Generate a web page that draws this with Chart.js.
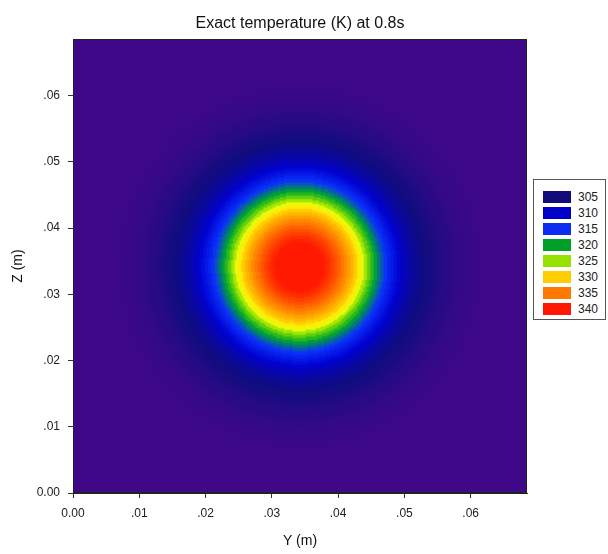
<!DOCTYPE html>
<html>
<head>
<meta charset="utf-8">
<script src="https://cdn.jsdelivr.net/npm/chart.js@4.4.0/dist/chart.umd.min.js"></script>
<style>
  html, body { margin: 0; padding: 0; background: #fff; }
  #wrap { position: relative; width: 608px; height: 554px; }
  #legend {
    position: absolute; left: 533px; top: 179px; width: 73px; height: 141px;
    box-sizing: border-box; border: 1px solid #555; background: #fff;
    font: 12px "Liberation Sans", Arial, sans-serif; color: #222;
  }
  .row { position: absolute; left: 9px; width: 60px; height: 12px; }
  .sw { position: absolute; left: 0; top: 0; width: 28px; height: 12px; }
  .lb { position: absolute; left: 35px; top: -1px; line-height: 14px; }
</style>
</head>
<body>
<div id="wrap">
  <canvas id="heatChart" width="608" height="554"></canvas>
  <div id="legend"></div>
</div>
<script>
// grid positions in mm (same for Y and Z), 0.25 mm apart
const gridStep = 0.25;
const gridMM = Array.from({ length: 275 }, (_, i) => i * gridStep);
// centre of the hot spot, mm
const centreY = 34.2;
const centreZ = 34.2;
// temperature (K) at r = 0, 0.5, 1.0 ... mm from the centre
const profileStep = 0.5;
const tempProfile = [
  342.0, 341.95, 341.8, 341.6, 341.3, 340.9, 340.5, 340.0, 339.5, 338.8,
  338.0, 337.1, 336.1, 335.1, 334.0, 332.9, 331.7, 330.4, 329.0, 327.3,
  325.3, 323.2, 321.3, 319.6, 318.0, 316.5, 315.1, 313.8, 312.6, 311.4,
  310.3, 309.3, 308.4, 307.6, 306.9, 306.3, 305.8, 305.3, 304.9, 304.5,
  304.1, 303.7, 303.3, 302.9, 302.6, 302.3, 302.0, 301.7, 301.4, 301.2,
  301.0, 300.8, 300.7, 300.6, 300.5, 300.4, 300.3, 300.25, 300.2, 300.15,
  300.1
];
// legend levels and colours
const legendLevels = [305, 310, 315, 320, 325, 330, 335, 340];
const legendColors = ['#120C7A', '#0000C8', '#0A2DF0', '#00A028', '#96E100', '#FFCD00', '#FF7800', '#FF1900'];
// shading colour stops
const shadeLevels = [300, 305, 310, 315, 320, 325, 328, 330, 335, 340];
const shadeColors = ['#3F0889', '#100C80', '#0000D0', '#0A30FA', '#00A828', '#96E400', '#FFFF10', '#FFD400', '#FF7800', '#FF1900'];
const axisMax = 0.0685;
const tickStep = 0.01;

// build the cell list
const cells = [];
gridMM.forEach((gz, j) => {
  gridMM.forEach((gy, i) => {
    const r = Math.round(Math.hypot(gy - centreY, gz - centreZ) / profileStep);
    const v = tempProfile[Math.min(r, tempProfile.length - 1)];
    cells.push({ x: gy / 1000, y: gz / 1000, v: v, i: i, j: j });
  });
});

function hexToRgb(h) {
  return [parseInt(h.slice(1, 3), 16), parseInt(h.slice(3, 5), 16), parseInt(h.slice(5, 7), 16)];
}
const shadeRgb = shadeColors.map(hexToRgb);

function colourFor(v) {
  if (v <= shadeLevels[0]) return shadeRgb[0];
  const last = shadeLevels.length - 1;
  if (v >= shadeLevels[last]) return shadeRgb[last];
  let k = 0;
  while (v > shadeLevels[k + 1]) k++;
  const t = (v - shadeLevels[k]) / (shadeLevels[k + 1] - shadeLevels[k]);
  const a = shadeRgb[k], b = shadeRgb[k + 1];
  return [0, 1, 2].map(c => Math.round(a[c] + (b[c] - a[c]) * t));
}

function tickText(v) {
  if (Math.abs(v) < 1e-9) return '0.00';
  return '.0' + Math.round(v * 100);
}

// paint the cells as an image placed through the scales
const heatPlugin = {
  id: 'heat',
  beforeDatasetsDraw(chart) {
    const pts = chart.data.datasets[0].data;
    const n = gridMM.length;
    const off = document.createElement('canvas');
    off.width = n;
    off.height = n;
    const octx = off.getContext('2d');
    const img = octx.createImageData(n, n);
    pts.forEach(p => {
      const rgb = colourFor(p.v);
      const idx = ((n - 1 - p.j) * n + p.i) * 4;
      img.data[idx] = rgb[0];
      img.data[idx + 1] = rgb[1];
      img.data[idx + 2] = rgb[2];
      img.data[idx + 3] = 255;
    });
    octx.putImageData(img, 0, 0);

    const xs = chart.scales.x, ys = chart.scales.y;
    const half = gridStep / 2000;
    const left = xs.getPixelForValue(gridMM[0] / 1000 - half);
    const right = xs.getPixelForValue(gridMM[n - 1] / 1000 + half);
    const top = ys.getPixelForValue(gridMM[n - 1] / 1000 + half);
    const bottom = ys.getPixelForValue(gridMM[0] / 1000 - half);
    const a = chart.chartArea;
    const ctx = chart.ctx;
    ctx.save();
    ctx.beginPath();
    ctx.rect(a.left, a.top, a.width, a.height);
    ctx.clip();
    ctx.imageSmoothingEnabled = true;
    ctx.imageSmoothingQuality = 'high';
    ctx.drawImage(off, left, top, right - left, bottom - top);
    ctx.restore();
  },
  afterDatasetsDraw(chart) {
    const a = chart.chartArea;
    const ctx = chart.ctx;
    ctx.save();
    ctx.strokeStyle = '#222';
    ctx.lineWidth = 1;
    ctx.strokeRect(Math.round(a.left) + 0.5, Math.round(a.top) + 0.5, Math.round(a.width) - 1, Math.round(a.height) - 1);
    ctx.restore();
  }
};

const fontFamily = '"Liberation Sans", Arial, sans-serif';

function axisOptions(titleText, isX) {
  return {
    type: 'linear',
    min: 0,
    max: axisMax,
    ticks: {
      stepSize: tickStep,
      includeBounds: false,
      color: '#222',
      font: { family: fontFamily, size: 12 },
      padding: 8,
      maxRotation: 0,
      callback: v => tickText(v)
    },
    grid: {
      drawOnChartArea: false,
      drawTicks: true,
      tickLength: 5,
      color: '#333'
    },
    border: { display: true, color: '#222' },
    title: {
      display: true,
      text: titleText,
      color: '#111',
      font: { family: fontFamily, size: 14 },
      padding: isX ? { top: 9, bottom: 4 } : { top: 10, bottom: 4 }
    },
    afterFit: isX ? (s => { s.height = 61; }) : (s => { s.width = 73; })
  };
}

new Chart(document.getElementById('heatChart'), {
  type: 'scatter',
  data: {
    datasets: [{
      label: 'Temperature (K)',
      data: cells,
      pointRadius: 0,
      pointHoverRadius: 0
    }]
  },
  options: {
    responsive: false,
    animation: false,
    events: [],
    layout: { padding: { left: 0, right: 81, top: 0, bottom: 0 } },
    plugins: {
      legend: { display: false },
      tooltip: { enabled: false },
      title: {
        display: true,
        fullSize: false,
        text: 'Exact temperature (K) at 0.8s',
        color: '#111',
        font: { family: fontFamily, size: 16, weight: 'normal' },
        padding: { top: 14, bottom: 6 }
      }
    },
    scales: {
      x: axisOptions('Y (m)', true),
      y: axisOptions('Z (m)', false)
    }
  },
  plugins: [heatPlugin]
});

// legend box
const legendEl = document.getElementById('legend');
legendLevels.forEach((lvl, k) => {
  const row = document.createElement('div');
  row.className = 'row';
  row.style.top = (11 + k * 16) + 'px';
  row.innerHTML = '<div class="sw" style="background:' + legendColors[k] + '"></div><div class="lb">' + lvl + '</div>';
  legendEl.appendChild(row);
});
</script>
</body>
</html>
